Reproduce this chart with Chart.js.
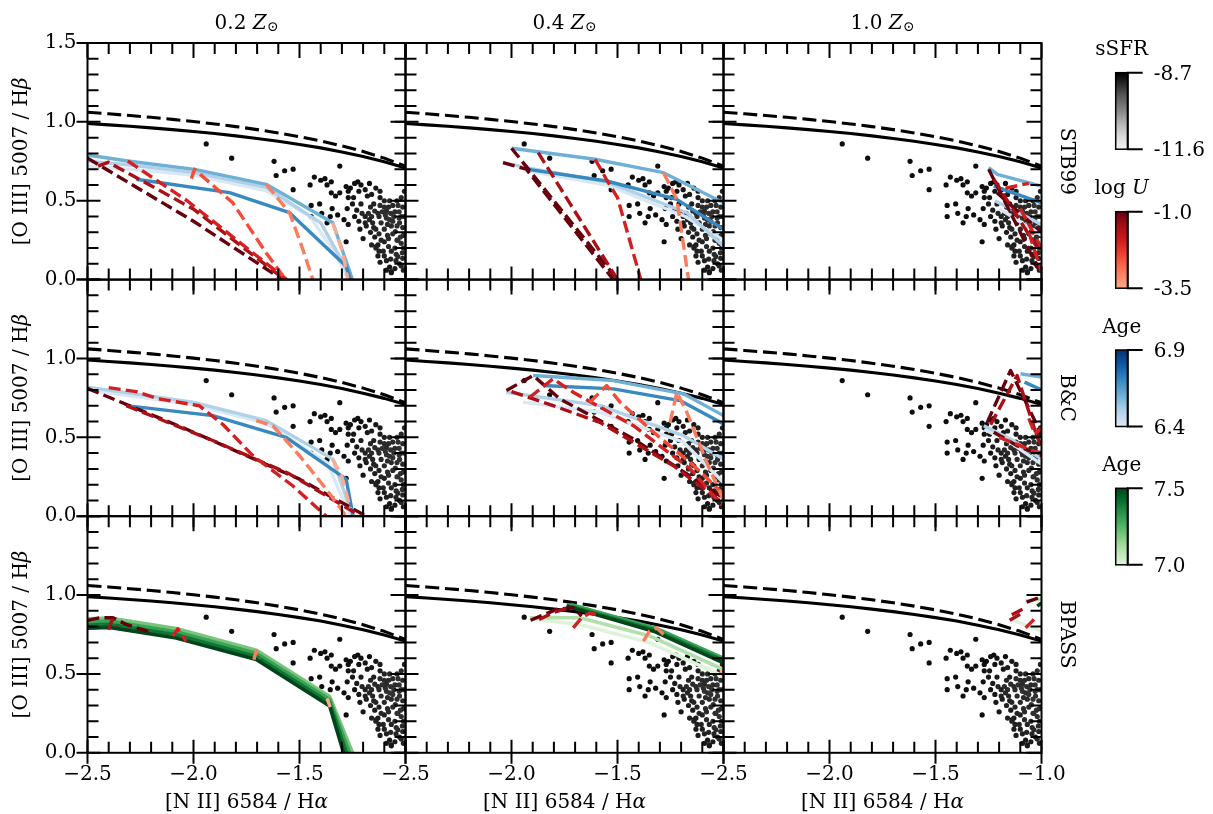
<!DOCTYPE html>
<html>
<head>
<meta charset="utf-8">
<title>BPT grids</title>
<script src="https://cdn.jsdelivr.net/npm/chart.js@4.4.1/dist/chart.umd.min.js"></script>
<style>
  html, body { margin: 0; padding: 0; background: #fff; }
  #fig { position: relative; width: 1213px; height: 814px; overflow: hidden; background: #fff; }
  #fig canvas { position: absolute; left: 0; top: 0; }
</style>
</head>
<body>
<div id="fig"></div>
<script>
// ---- axes ----
var xTicks = [-2.5, -2.0, -1.5, -1.0];
var yTicks = [0.0, 0.5, 1.0, 1.5];
var minorStep = 0.1;

// ---- colour bar ranges ----
var ssfrRange = [-11.6, -8.7];
var logURange = [-3.5, -1.0];
var ageBlueRange = [6.4, 6.9];
var ageGreenRange = [7.0, 7.5];

// ---- demarcation curves ----
var bptN2 = [-2.5, -2.4, -2.3, -2.2, -2.1, -2.0, -1.9, -1.8, -1.7, -1.6, -1.5, -1.4, -1.3, -1.2, -1.1, -1.0];
var bptDashed = [1.061, 1.051, 1.040, 1.029, 1.016, 1.002, 0.987, 0.970, 0.951, 0.930, 0.906, 0.879, 0.848, 0.812, 0.770, 0.719];
var bptSolid = [0.990, 0.981, 0.972, 0.962, 0.951, 0.939, 0.926, 0.911, 0.895, 0.877, 0.857, 0.835, 0.809, 0.780, 0.747, 0.708];

// ---- galaxy sample ----
var galaxyN2 = [
  -1.94, -1.82, -1.62, -1.61, -1.57, -1.53, -1.53, -1.31, -1.45, -1.43,
  -1.40, -1.38, -1.35, -1.37, -1.35, -1.33, -1.31, -1.28, -1.27, -1.26,
  -1.24, -1.225, -1.21, -1.17, -1.27, -1.245, -1.21, -1.18, -1.16, -1.12,
  -1.10, -1.445, -1.445, -1.405, -1.395, -1.346, -1.355, -1.37, -1.32, -1.29,
  -1.27, -1.28, -1.275, -1.25, -1.23, -1.205, -1.19, -1.175, -1.165, -1.145,
  -1.13, -1.11, -1.09, -1.07, -1.05, -1.03, -1.013, -1.16, -1.185, -1.15,
  -1.20, -1.145, -1.13, -1.14, -1.12, -1.105, -1.10, -1.085, -1.067, -1.048,
  -1.028, -1.075, -1.036, -1.02, -1.067, -1.044, -1.075, -1.067, -1.028, -1.013,
  -1.024, -1.013, -1.005, -1.19, -1.215, -1.14, -1.115, -1.10, -1.08, -1.10,
  -1.05, -1.138, -1.13, -1.067, -1.07, -1.036, -1.02, -1.04, -1.06, -1.04,
  -1.02, -1.005, -1.08, -1.12, -1.09, -1.06, -1.03, -1.01, -1.01, -1.01,
  -1.05, -1.09, -1.155, -1.17, -1.125, -1.095, -1.055, -1.04, -1.085, -1.125,
  -1.06, -1.045, -1.09, -1.15, -1.10, -1.075, -1.035, -1.02, -1.22, -1.19,
  -1.14, -1.12, -1.24, -1.22, -1.165, -1.115, -1.16, -1.125, -1.08, -1.015
];
var galaxyO3 = [
  0.86, 0.77, 0.75, 0.66, 0.69, 0.70, 0.57, 0.72, 0.60, 0.65,
  0.63, 0.64, 0.62, 0.60, 0.55, 0.53, 0.55, 0.59, 0.56, 0.58,
  0.61, 0.62, 0.60, 0.61, 0.52, 0.52, 0.48, 0.53, 0.54, 0.52,
  0.50, 0.47, 0.40, 0.48, 0.42, 0.45, 0.40, 0.36, 0.41, 0.38,
  0.35, 0.24, 0.45, 0.48, 0.44, 0.42, 0.40, 0.42, 0.46, 0.435,
  0.42, 0.43, 0.435, 0.42, 0.43, 0.43, 0.46, 0.40, 0.34, 0.33,
  0.26, 0.27, 0.22, 0.20, 0.11, 0.18, 0.24, 0.28, 0.34, 0.305,
  0.36, 0.38, 0.25, 0.23, 0.18, 0.16, 0.08, 0.05, 0.10, 0.135,
  0.27, 0.33, 0.40, 0.36, 0.32, 0.32, 0.36, 0.32, 0.26, 0.15,
  0.20, 0.21, 0.15, 0.044, 0.13, 0.146, 0.087, 0.25, 0.47, 0.50,
  0.52, 0.56, 0.46, 0.47, 0.39, 0.37, 0.39, 0.28, 0.20, 0.06,
  0.07, 0.06, 0.36, 0.38, 0.40, 0.41, 0.40, 0.34, 0.35, 0.29,
  0.29, 0.12, 0.12, 0.48, 0.46, 0.50, 0.47, 0.40, 0.56, 0.57,
  0.58, 0.56, 0.40, 0.37, 0.30, 0.25, 0.22, 0.18, 0.21, 0.17
];
var galaxySSFR = [
  -8.85, -8.85, -8.85, -8.85, -8.85, -8.85, -8.85, -8.85, -8.85, -8.85,
  -8.85, -8.85, -8.85, -8.85, -8.85, -8.85, -8.9, -8.85, -8.9, -8.85,
  -8.9, -8.85, -8.9, -8.85, -8.9, -8.95, -9.0, -8.95, -9.0, -9.0,
  -9.05, -8.85, -8.85, -8.85, -8.85, -8.85, -8.85, -8.85, -8.85, -8.85,
  -8.9, -8.85, -8.9, -8.95, -9.0, -9.1, -9.05, -9.15, -9.1, -9.15,
  -9.15, -9.2, -9.15, -9.2, -9.15, -9.2, -9.15, -9.15, -9.0, -9.05,
  -8.95, -9.0, -9.0, -9.1, -9.0, -9.1, -9.05, -9.15, -9.15, -9.2,
  -9.2, -9.2, -9.15, -9.2, -9.1, -9.15, -8.95, -9.0, -9.05, -9.1,
  -9.2, -9.15, -9.2, -9.05, -8.95, -9.1, -9.15, -9.15, -9.15, -9.05,
  -9.15, -9.05, -9.0, -8.95, -9.1, -9.15, -9.1, -9.2, -9.15, -9.2,
  -9.15, -9.1, -9.15, -9.15, -9.2, -9.2, -9.2, -9.15, -9.15, -9.05,
  -9.0, -8.95, -9.1, -9.1, -9.15, -9.2, -9.2, -9.2, -9.15, -9.1,
  -9.15, -9.1, -9.05, -9.05, -9.15, -9.1, -9.2, -9.2, -8.9, -8.95,
  -8.95, -9.0, -8.9, -8.95, -9.05, -9.1, -9.05, -9.05, -9.15, -9.15
];

// ---- model grids: [age or log U, [[log N2, log O3], ...]] ----
var stb99Z02Age = [
  [6.4, [[-2.5, 0.72], [-2.3, 0.70], [-2.0, 0.662], [-1.66, 0.565], [-1.45, 0.40], [-1.32, 0.14], [-1.27, 0.0]]],
  [6.5, [[-2.5, 0.75], [-2.31, 0.728], [-2.0, 0.68], [-1.657, 0.585], [-1.40, 0.36], [-1.30, 0.12], [-1.26, 0.0]]],
  [6.6, [[-2.5, 0.79], [-2.31, 0.752], [-1.995, 0.699], [-1.657, 0.604], [-1.343, 0.36], [-1.25, 0.0]]],
  [6.7, [[-2.27, 0.636], [-1.83, 0.551], [-1.547, 0.424], [-1.28, 0.085], [-1.26, 0.0]]]
];
var stb99Z02LogU = [
  [-1.0, [[-2.5, 0.77], [-2.0, 0.37], [-1.58, 0.0]]],
  [-1.5, [[-2.45, 0.72], [-2.40, 0.745], [-2.37, 0.72], [-2.0, 0.447], [-1.57, 0.0]]],
  [-2.0, [[-2.31, 0.752], [-2.03, 0.50], [-1.56, 0.0]]],
  [-2.5, [[-2.01, 0.64], [-1.995, 0.699], [-1.815, 0.487], [-1.657, 0.169], [-1.565, 0.0]]],
  [-3.0, [[-1.657, 0.604], [-1.547, 0.424], [-1.484, 0.191], [-1.437, 0.0]]],
  [-3.5, [[-1.343, 0.36], [-1.296, 0.17], [-1.272, 0.0]]]
];
var stb99Z04Age = [
  [6.4, [[-1.93, 0.69], [-1.55, 0.60], [-1.18, 0.40], [-1.0, 0.25]]],
  [6.5, [[-2.04, 0.742], [-1.93, 0.71], [-1.551, 0.62], [-1.173, 0.424], [-1.0, 0.212]]],
  [6.6, [[-2.0, 0.833], [-1.606, 0.763], [-1.283, 0.678], [-1.0, 0.487]]],
  [6.7, [[-1.93, 0.70], [-1.551, 0.625], [-1.22, 0.509], [-1.0, 0.318]]]
];
var stb99Z04LogU = [
  [-1.0, [[-2.0, 0.833], [-1.50, 0.0]]],
  [-1.0, [[-2.04, 0.742], [-1.93, 0.70], [-1.52, 0.0]]],
  [-1.5, [[-1.874, 0.805], [-1.50, 0.0]]],
  [-2.0, [[-1.606, 0.763], [-1.55, 0.63], [-1.50, 0.52], [-1.39, 0.0]]],
  [-3.0, [[-1.283, 0.678], [-1.22, 0.509], [-1.165, 0.0]]]
];
var stb99Z10Age = [
  [6.4, [[-1.20, 0.45], [-1.0, 0.28]]],
  [6.5, [[-1.22, 0.50], [-1.0, 0.35]]],
  [6.6, [[-1.249, 0.71], [-1.209, 0.667], [-1.0, 0.593]]],
  [6.7, [[-1.225, 0.593], [-1.0, 0.487]]]
];
var stb99Z10LogU = [
  [-1.0, [[-1.249, 0.70], [-1.013, 0.064]]],
  [-1.0, [[-1.21, 0.55], [-1.0, 0.30]]],
  [-1.5, [[-1.225, 0.636], [-1.005, 0.17]]],
  [-2.0, [[-1.17, 0.58], [-1.06, 0.61]]],
  [-2.0, [[-1.10, 0.45], [-1.0, 0.20]]],
  [-2.0, [[-1.06, 0.30], [-1.0, 0.05]]]
];
var bcZ02Age = [
  [6.4, [[-2.5, 0.80], [-2.0, 0.708], [-1.66, 0.59], [-1.37, 0.34], [-1.26, 0.0]]],
  [6.5, [[-2.5, 0.818], [-2.003, 0.723], [-1.657, 0.606], [-1.343, 0.362], [-1.249, 0.0]]],
  [6.7, [[-2.317, 0.701], [-1.909, 0.638], [-1.563, 0.50], [-1.28, 0.235], [-1.247, 0.0]]]
];
var bcZ02LogU = [
  [-1.0, [[-2.5, 0.81], [-2.035, 0.553], [-1.5, 0.235], [-1.185, 0.0]]],
  [-1.5, [[-2.317, 0.701], [-1.909, 0.48], [-1.55, 0.27], [-1.21, 0.0]]],
  [-2.0, [[-2.40, 0.815], [-2.27, 0.79], [-2.17, 0.745], [-1.972, 0.70], [-1.86, 0.58], [-1.72, 0.384], [-1.532, 0.193], [-1.374, 0.0]]],
  [-3.0, [[-1.704, 0.606], [-1.626, 0.574], [-1.5, 0.384], [-1.374, 0.172], [-1.28, 0.0]]],
  [-3.5, [[-1.343, 0.362], [-1.30, 0.25], [-1.26, 0.05]]]
];
var bcZ04Age = [
  [6.4, [[-1.945, 0.723], [-1.583, 0.659], [-1.189, 0.469], [-1.0, 0.214]]],
  [6.5, [[-2.024, 0.786], [-1.583, 0.701], [-1.189, 0.511], [-1.0, 0.362]]],
  [6.6, [[-1.898, 0.892], [-1.52, 0.86], [-1.189, 0.776], [-1.0, 0.638]]],
  [6.7, [[-1.851, 0.829], [-1.52, 0.807], [-1.205, 0.733], [-1.0, 0.585]]]
];
var bcZ04LogU = [
  [-1.0, [[-2.024, 0.797], [-1.898, 0.892], [-1.772, 0.744], [-1.425, 0.49], [-1.015, 0.129]]],
  [-1.5, [[-2.0, 0.79], [-1.804, 0.701], [-1.583, 0.595], [-1.236, 0.32], [-1.0, 0.08]]],
  [-2.0, [[-1.914, 0.754], [-1.804, 0.871], [-1.709, 0.786], [-1.425, 0.574], [-1.157, 0.30], [-1.008, 0.07]]],
  [-2.5, [[-1.63, 0.723], [-1.551, 0.829], [-1.488, 0.723], [-1.33, 0.532], [-1.14, 0.32], [-1.0, 0.14]]],
  [-3.0, [[-1.252, 0.595], [-1.22, 0.786], [-1.173, 0.659], [-1.079, 0.341], [-1.0, 0.10]]]
];
var bcZ10Age = [
  [6.4, [[-1.27, 0.55], [-1.15, 0.47], [-1.0, 0.33]]],
  [6.5, [[-1.272, 0.574], [-1.146, 0.49], [-1.0, 0.362]]],
  [6.6, [[-1.099, 0.903], [-1.0, 0.882]]],
  [6.7, [[-1.08, 0.85], [-1.0, 0.80]]]
];
var bcZ10LogU = [
  [-1.0, [[-1.256, 0.595], [-1.146, 0.924], [-1.02, 0.574], [-1.0, 0.50]]],
  [-1.0, [[-1.225, 0.532], [-1.115, 0.447], [-1.0, 0.384]]],
  [-1.5, [[-1.24, 0.58], [-1.115, 0.892], [-1.02, 0.50], [-1.0, 0.45]]],
  [-2.0, [[-1.06, 0.62], [-1.03, 0.52], [-1.0, 0.56]]],
  [-2.0, [[-1.20, 0.50], [-1.05, 0.42], [-1.0, 0.40]]]
];
var bpassZ02Age = [
  [7.0, [[-2.5, 0.80], [-2.3, 0.79], [-2.15, 0.755]]],
  [7.2, [[-2.5, 0.85], [-2.396, 0.855], [-2.082, 0.788], [-1.704, 0.651], [-1.358, 0.357], [-1.25, 0.0]]],
  [7.3, [[-2.5, 0.83], [-2.396, 0.835], [-2.082, 0.768], [-1.704, 0.631], [-1.358, 0.337], [-1.264, 0.0]]],
  [7.4, [[-2.5, 0.81], [-2.396, 0.815], [-2.082, 0.748], [-1.704, 0.611], [-1.358, 0.317], [-1.278, 0.0]]],
  [7.5, [[-2.5, 0.79], [-2.396, 0.795], [-2.082, 0.728], [-1.704, 0.591], [-1.358, 0.297], [-1.292, 0.0]]]
];
var bpassZ02LogU = [
  [-1.0, [[-2.5, 0.84], [-2.443, 0.856], [-2.38, 0.856], [-2.317, 0.814], [-2.192, 0.76]]],
  [-1.5, [[-2.40, 0.78], [-2.385, 0.84], [-2.36, 0.80]]],
  [-2.0, [[-2.098, 0.739], [-2.074, 0.786], [-2.035, 0.708]]],
  [-3.0, [[-1.715, 0.59], [-1.705, 0.645], [-1.69, 0.595]]],
  [-3.5, [[-1.37, 0.345], [-1.355, 0.29]]]
];
var bpassZ04Age = [
  [7.0, [[-1.914, 0.85], [-1.677, 0.814], [-1.346, 0.697], [-1.0, 0.485]]],
  [7.1, [[-1.914, 0.856], [-1.677, 0.856], [-1.346, 0.74], [-1.0, 0.528]]],
  [7.3, [[-1.72, 0.94], [-1.32, 0.79], [-1.0, 0.60]]],
  [7.4, [[-1.74, 0.935], [-1.33, 0.78], [-1.0, 0.585]]],
  [7.5, [[-1.74, 0.93], [-1.33, 0.771], [-1.0, 0.57]]]
];
var bpassZ04LogU = [
  [-1.0, [[-1.91, 0.84], [-1.787, 0.909], [-1.709, 0.92], [-1.669, 0.867]]],
  [-1.5, [[-1.87, 0.845], [-1.80, 0.89], [-1.74, 0.915]]],
  [-2.0, [[-1.709, 0.792], [-1.669, 0.856], [-1.63, 0.888], [-1.583, 0.867]]],
  [-3.0, [[-1.378, 0.708], [-1.35, 0.77], [-1.315, 0.792], [-1.275, 0.74]]],
  [-3.5, [[-1.012, 0.53], [-1.0, 0.48]]]
];
var bpassZ10Age = [
  [7.0, [[-1.146, 0.846], [-1.0, 0.771]]],
  [7.1, [[-1.075, 0.962], [-1.0, 0.975]]],
  [7.5, [[-1.02, 0.93], [-1.0, 0.95]]]
];
var bpassZ10LogU = [
  [-1.0, [[-1.07, 0.955], [-1.0, 0.99]]],
  [-1.5, [[-1.15, 0.84], [-1.10, 0.88]]],
  [-1.5, [[-1.14, 0.875], [-1.09, 0.91]]],
  [-2.0, [[-1.075, 0.792], [-1.028, 0.856]]]
];

var modelNames = ['STB99', 'B&C', 'BPASS'];
var metallicities = ['0.2', '0.4', '1.0'];
var grids = [
  [[stb99Z02Age, stb99Z02LogU], [stb99Z04Age, stb99Z04LogU], [stb99Z10Age, stb99Z10LogU]],
  [[bcZ02Age, bcZ02LogU], [bcZ04Age, bcZ04LogU], [bcZ10Age, bcZ10LogU]],
  [[bpassZ02Age, bpassZ02LogU], [bpassZ04Age, bpassZ04LogU], [bpassZ10Age, bpassZ10LogU]]
];

// ---- page layout ----
var FIG_W = 1213, FIG_H = 814;
var panelLeft = [87.5, 405.5, 723.5];
var panelTop = [43, 279.6, 516.2];
var panelW = 318, panelH = 236.6;
var FONT = '"DejaVu Serif", "DejaVu Sans", serif';
var FS = 20;

// ---- colour maps ----
var BLUES = ['#f7fbff', '#deebf7', '#c6dbef', '#9ecae1', '#6baed6', '#4292c6', '#2171b5', '#08519c', '#08306b'];
var GREENS = ['#f7fcf5', '#e5f5e0', '#c7e9c0', '#a1d99b', '#74c476', '#41ab5d', '#238b45', '#006d2c', '#00441b'];
var REDS = ['#fff5f0', '#fee0d2', '#fcbba1', '#fc9272', '#fb6a4a', '#ef3b2c', '#cb181d', '#a50f15', '#67000d'];
var GREYS = ['#ffffff', '#f0f0f0', '#d9d9d9', '#bdbdbd', '#969696', '#737373', '#525252', '#252525', '#000000'];

function hexRgb(h) {
  return [parseInt(h.slice(1, 3), 16), parseInt(h.slice(3, 5), 16), parseInt(h.slice(5, 7), 16)];
}
function cmap(stops, t) {
  t = Math.min(1, Math.max(0, t));
  var p = t * (stops.length - 1);
  var i = Math.min(stops.length - 2, Math.floor(p));
  var f = p - i;
  var a = hexRgb(stops[i]), b = hexRgb(stops[i + 1]);
  return 'rgb(' + [0, 1, 2].map(function (k) { return Math.round(a[k] + (b[k] - a[k]) * f); }).join(',') + ')';
}
function norm(v, r) { return (v - r[0]) / (r[1] - r[0]); }
function ssfrColor(v) { return cmap(GREYS, 0.1 + 0.9 * norm(v, ssfrRange)); }
function logUColor(v) { return cmap(REDS, 0.3 + 0.7 * norm(v, logURange)); }
function blueAgeColor(v) { return cmap(BLUES, 0.15 + 0.85 * norm(v, ageBlueRange)); }
function greenAgeColor(v) { return cmap(GREENS, 0.15 + 0.85 * norm(v, ageGreenRange)); }

// text with italic / subscript pieces
function drawRich(ctx, parts, x, y, align) {
  function fontOf(p) {
    return (p[1] === 'i' ? 'italic ' : '') + (p[1] === 's' ? FS * 0.7 : FS) + 'px ' + FONT;
  }
  var total = 0;
  parts.forEach(function (p) { ctx.font = fontOf(p); total += ctx.measureText(p[0]).width; });
  var cx = align === 'center' ? x - total / 2 : (align === 'right' ? x - total : x);
  ctx.textAlign = 'left';
  parts.forEach(function (p) {
    ctx.font = fontOf(p);
    ctx.fillText(p[0], cx, y + (p[1] === 's' ? FS * 0.12 : 0));
    cx += ctx.measureText(p[0]).width;
  });
}
function axisLabel(v) { return v.toFixed(1).replace('-', '\u2212'); }

var fig = document.getElementById('fig');
function makeCanvas() {
  var c = document.createElement('canvas');
  c.width = FIG_W; c.height = FIG_H;
  c.style.width = FIG_W + 'px'; c.style.height = FIG_H + 'px';
  fig.appendChild(c);
  return c;
}

// spines, inward/outward ticks and all panel text
var panelFrame = {
  id: 'panelFrame',
  afterDatasetsDraw: function (chart, args, opt) {
    var ctx = chart.ctx, a = chart.chartArea;
    var sx = chart.scales.x, sy = chart.scales.y;
    var row = opt.row, col = opt.col;
    var every = Math.round((xTicks[1] - xTicks[0]) / minorStep);
    ctx.save();
    ctx.strokeStyle = '#000';
    ctx.lineWidth = 2;
    ctx.beginPath();
    var nx = Math.round((xTicks[xTicks.length - 1] - xTicks[0]) / minorStep);
    for (var k = 0; k <= nx; k++) {
      var px = sx.getPixelForValue(xTicks[0] + k * minorStep);
      if (k % every === 0) {
        ctx.moveTo(px, a.bottom + 11); ctx.lineTo(px, a.bottom - 13);
        ctx.moveTo(px, a.top); ctx.lineTo(px, a.top + 15);
      } else {
        ctx.moveTo(px, a.bottom); ctx.lineTo(px, a.bottom - 11);
        ctx.moveTo(px, a.top); ctx.lineTo(px, a.top + 11);
      }
    }
    var ny = Math.round((yTicks[yTicks.length - 1] - yTicks[0]) / minorStep);
    for (var j = 0; j <= ny; j++) {
      var py = sy.getPixelForValue(yTicks[0] + j * minorStep);
      if (j % every === 0) {
        ctx.moveTo(a.left - 11, py); ctx.lineTo(a.left + 13, py);
        ctx.moveTo(a.right, py); ctx.lineTo(a.right - 15, py);
      } else {
        ctx.moveTo(a.left, py); ctx.lineTo(a.left + 11, py);
        ctx.moveTo(a.right, py); ctx.lineTo(a.right - 11, py);
      }
    }
    ctx.stroke();
    ctx.lineWidth = 2;
    ctx.strokeRect(a.left, a.top, a.right - a.left, a.bottom - a.top);

    ctx.fillStyle = '#000';
    ctx.font = FS + 'px ' + FONT;
    ctx.textBaseline = 'middle';
    if (row === 2) {
      ctx.textAlign = 'center';
      xTicks.forEach(function (v, i) {
        if (col < 2 && i === xTicks.length - 1) return;
        ctx.fillText(axisLabel(v), sx.getPixelForValue(v), a.bottom + 22);
      });
      drawRich(ctx, [['[N II] 6584 / H', 'r'], ['\u03b1', 'i']], (a.left + a.right) / 2, 803, 'center');
    }
    if (col === 0) {
      ctx.font = FS + 'px ' + FONT;
      ctx.textAlign = 'right';
      yTicks.forEach(function (v, i) {
        if (row > 0 && i === yTicks.length - 1) return;
        ctx.fillText(axisLabel(v), a.left - 11, sy.getPixelForValue(v));
      });
      ctx.save();
      ctx.translate(22, (a.top + a.bottom) / 2);
      ctx.rotate(-Math.PI / 2);
      drawRich(ctx, [['[O III] 5007 / H', 'r'], ['\u03b2', 'i']], 0, 0, 'center');
      ctx.restore();
    }
    if (col === 2) {
      ctx.save();
      ctx.translate(1066, (a.top + a.bottom) / 2);
      ctx.rotate(Math.PI / 2);
      drawRich(ctx, [[modelNames[row], 'r']], 0, 0, 'center');
      ctx.restore();
    }
    if (row === 0) {
      ctx.textBaseline = 'alphabetic';
      drawRich(ctx, [[metallicities[col] + ' ', 'r'], ['Z', 'i'], ['\u2299', 's']], (a.left + a.right) / 2, 28.5, 'center');
    }
    ctx.restore();
  }
};

function track(pts, color, width, dash) {
  return {
    type: 'line',
    data: pts.map(function (p) { return { x: p[0], y: p[1] }; }),
    borderColor: color,
    borderWidth: width,
    borderDash: dash,
    borderJoinStyle: 'round',
    borderCapStyle: 'butt',
    pointRadius: 0,
    fill: false,
    tension: 0,
    clip: 0
  };
}

var galaxyPoints = galaxyN2.map(function (x, i) { return { x: x, y: galaxyO3[i] }; });
var galaxyColors = galaxySSFR.map(ssfrColor);

for (var r = 0; r < 3; r++) {
  for (var c = 0; c < 3; c++) {
    var ageTracks = grids[r][c][0], uTracks = grids[r][c][1];
    var ageColor = r === 2 ? greenAgeColor : blueAgeColor;
    // bottom to top
    var layers = [];
    layers.push({
      type: 'scatter',
      data: galaxyPoints,
      pointBackgroundColor: galaxyColors,
      pointBorderWidth: 0,
      pointRadius: 2.6,
      clip: 0
    });
    layers.push(track(bptN2.map(function (x, i) { return [x, bptSolid[i]]; }), '#000', 3.1, []));
    layers.push(track(bptN2.map(function (x, i) { return [x, bptDashed[i]]; }), '#000', 3.1, [14, 5.8]));
    ageTracks.forEach(function (t) { layers.push(track(t[1], ageColor(t[0]), r === 2 ? 3.6 : 3.4, [])); });
    uTracks.forEach(function (t) { layers.push(track(t[1], logUColor(t[0]), 3.4, [12, 5.2])); });
    layers.forEach(function (d, i) { d.order = layers.length - i; });

    new Chart(makeCanvas(), {
      type: 'scatter',
      data: { datasets: layers },
      options: {
        responsive: false,
        animation: false,
        devicePixelRatio: 1,
        events: [],
        layout: {
          padding: {
            left: panelLeft[c],
            top: panelTop[r],
            right: FIG_W - panelLeft[c] - panelW,
            bottom: FIG_H - panelTop[r] - panelH
          }
        },
        scales: {
          x: { type: 'linear', min: xTicks[0], max: xTicks[xTicks.length - 1], display: false },
          y: { type: 'linear', min: yTicks[0], max: yTicks[yTicks.length - 1], display: false }
        },
        plugins: {
          legend: { display: false },
          tooltip: { enabled: false },
          panelFrame: { row: r, col: c }
        }
      },
      plugins: [panelFrame]
    });
  }
}

// ---- colour bars ----
var cbarLeft = 1115.7, cbarRight = 1127.7, cbarH = 76.5;
var cbarTops = [72.7, 211.7, 350, 488.3];
var cbarTitles = [[['sSFR', 'r']], [['log ', 'r'], ['U', 'i']], [['Age', 'r']], [['Age', 'r']]];
var cbarRanges = [ssfrRange, logURange, ageBlueRange, ageGreenRange];
var cbarColors = [ssfrColor, logUColor, blueAgeColor, greenAgeColor];

var cbarFrame = {
  id: 'cbarFrame',
  afterDatasetsDraw: function (chart, args, o) {
    var ctx = chart.ctx, a = chart.chartArea, sy = chart.scales.y;
    ctx.save();
    ctx.strokeStyle = '#000';
    ctx.lineWidth = 1.5;
    ctx.strokeRect(a.left, a.top, a.right - a.left, a.bottom - a.top);
    ctx.lineWidth = 2;
    ctx.beginPath();
    o.range.forEach(function (v) {
      var py = sy.getPixelForValue(v);
      ctx.moveTo(a.right - 1, py); ctx.lineTo(a.right + 15, py);
    });
    ctx.moveTo(a.right, a.top); ctx.lineTo(a.right, a.bottom);
    ctx.stroke();
    ctx.fillStyle = '#000';
    ctx.font = FS + 'px ' + FONT;
    ctx.textAlign = 'left';
    ctx.textBaseline = 'middle';
    o.range.forEach(function (v) {
      ctx.fillText(v.toFixed(1), a.right + 26, sy.getPixelForValue(v) + 2);
    });
    drawRich(ctx, o.title, (a.left + a.right) / 2, a.top - 22.5, 'center');
    ctx.restore();
  }
};

cbarRanges.forEach(function (range, i) {
  var colorOf = cbarColors[i];
  new Chart(makeCanvas(), {
    type: 'bar',
    data: {
      labels: [''],
      datasets: [{
        data: [[range[0], range[1]]],
        borderWidth: 0,
        barPercentage: 1,
        categoryPercentage: 1,
        backgroundColor: function (ctx) {
          var a = ctx.chart.chartArea;
          if (!a) return 'rgba(0,0,0,0)';
          var g = ctx.chart.ctx.createLinearGradient(0, a.bottom, 0, a.top);
          for (var k = 0; k <= 12; k++) {
            g.addColorStop(k / 12, colorOf(range[0] + (range[1] - range[0]) * k / 12));
          }
          return g;
        }
      }]
    },
    options: {
      responsive: false,
      animation: false,
      devicePixelRatio: 1,
      events: [],
      layout: {
        padding: {
          left: cbarLeft,
          right: FIG_W - cbarRight,
          top: cbarTops[i],
          bottom: FIG_H - cbarTops[i] - cbarH
        }
      },
      scales: {
        x: { display: false },
        y: { display: false, min: range[0], max: range[1] }
      },
      plugins: {
        legend: { display: false },
        tooltip: { enabled: false },
        cbarFrame: { range: range, title: cbarTitles[i] }
      }
    },
    plugins: [cbarFrame]
  });
});
</script>
</body>
</html>
